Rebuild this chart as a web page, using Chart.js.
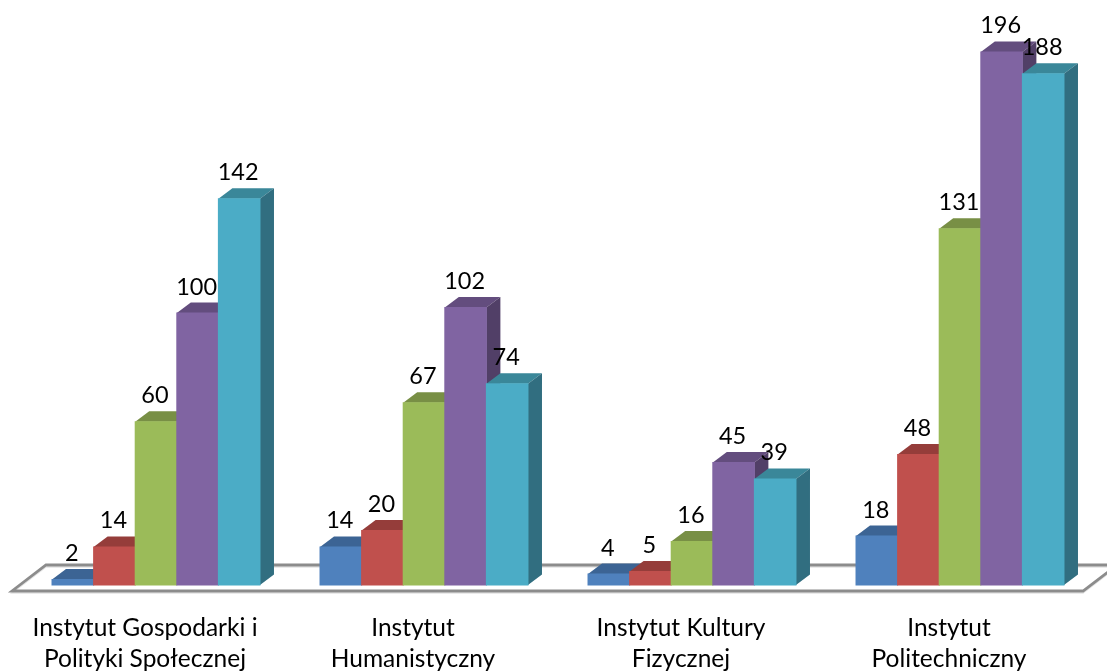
<!DOCTYPE html>
<html><head><meta charset="utf-8">
<style>html,body{margin:0;padding:0;background:#fff;overflow:hidden}canvas{display:block}</style>
<script src="https://cdn.jsdelivr.net/npm/chart.js@4"></script>
</head><body><canvas id="c" width="1107" height="671"></canvas>
<script>
const categories = [
  ["Instytut Gospodarki i","Polityki Społecznej"],
  ["Instytut","Humanistyczny"],
  ["Instytut Kultury","Fizycznej"],
  ["Instytut","Politechniczny"]
];
const series1 = [2, 14, 4, 18];
const series2 = [14, 20, 5, 48];
const series3 = [60, 67, 16, 131];
const series4 = [100, 102, 45, 196];
const series5 = [142, 74, 39, 188];
const frontColors = ["#4F81BD","#C0504D","#9BBB59","#8064A2","#4BACC6"];
const topColors   = ["#3C6494","#953D3A","#788F45","#634D7E","#3A8799"];
const sideColors  = ["#325379","#7B3230","#637539","#513F67","#316E80"];
const DX = 14, DY = 10.5;

const bars3d = {
  id:'bars3d',
  beforeDatasetsDraw(chart){
    const {ctx, chartArea:a} = chart;
    const fy = a.bottom + 6, by = a.bottom - 20;
    const x0 = a.left - 10, x1 = a.right - 11, sh = 34;
    const floor = (col, off, w) => {
      ctx.beginPath();
      ctx.moveTo(x0 + sh, by + off);
      ctx.lineTo(x1 + sh, by + off);
      ctx.lineTo(x1, fy + off);
      ctx.lineTo(x0, fy + off);
      ctx.closePath();
      ctx.strokeStyle = col; ctx.lineWidth = w; ctx.lineJoin='miter'; ctx.stroke();
    };
    ctx.save();
    floor('#e4e4e4', 2, 1.5);
    floor('#8c8c8c', 0, 2.8);
    chart.data.datasets.forEach((ds, i) => {
      chart.getDatasetMeta(i).data.forEach(el => {
        const p = el.getProps(['x','y','base','width'], true);
        const l = p.x - p.width/2, r = p.x + p.width/2;
        ctx.fillStyle = topColors[i];
        ctx.beginPath();
        ctx.moveTo(l, p.y); ctx.lineTo(l+DX, p.y-DY); ctx.lineTo(r+DX, p.y-DY); ctx.lineTo(r, p.y);
        ctx.closePath(); ctx.fill();
        ctx.fillStyle = sideColors[i];
        ctx.beginPath();
        ctx.moveTo(r, p.y); ctx.lineTo(r+DX, p.y-DY); ctx.lineTo(r+DX, p.base-DY); ctx.lineTo(r, p.base);
        ctx.closePath(); ctx.fill();
        el.draw(ctx);
      });
    });
    ctx.restore();
    return false;
  },
  afterDraw(chart){
    const {ctx} = chart;
    ctx.save();
    ctx.font = '23.5px Lato';
    ctx.fillStyle = '#000';
    ctx.textAlign = 'center';
    ctx.textBaseline = 'middle';
    chart.data.datasets.forEach((ds, i) => {
      chart.getDatasetMeta(i).data.forEach((el, j) => {
        ctx.fillText(String(ds.data[j]), el.x - 1, el.y - 26);
      });
    });
    ctx.restore();
  }
};

const seriesData = [series1, series2, series3, series4, series5];
new Chart(document.getElementById('c'), {
  type:'bar',
  data:{
    labels:categories,
    datasets:seriesData.map((d,i)=>({
      label:'Seria '+(i+1), data:d, backgroundColor:frontColors[i], borderWidth:0, inflateAmount:0.5,
      barPercentage:1, categoryPercentage:0.776
    }))
  },
  options:{
    responsive:false, animation:false,
    layout:{padding:{left:22,right:13,top:41,bottom:0}},
    plugins:{legend:{display:false},tooltip:{enabled:false}},
    scales:{
      x:{
        grid:{display:false}, border:{display:false},
        afterFit(s){ s.height = 86; },
        ticks:{color:'#000',font:{family:'Lato',size:24.5,lineHeight:1.265},padding:20,labelOffset:-11,maxRotation:0,minRotation:0,autoSkip:false}
      },
      y:{display:false,min:0,max:200}
    }
  },
  plugins:[bars3d]
});
</script></body></html>
